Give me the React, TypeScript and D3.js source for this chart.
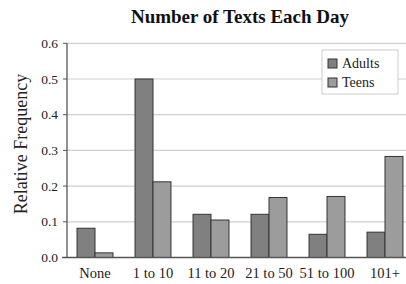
import React from 'react';
import * as d3 from 'd3';

// chart data
const categories = ['None', '1 to 10', '11 to 20', '21 to 50', '51 to 100', '101+'];
const series = ['Adults', 'Teens'];
const adults = [0.082, 0.5, 0.121, 0.121, 0.065, 0.071];
const teens = [0.013, 0.212, 0.105, 0.168, 0.171, 0.283];
const yTicks = [0, 0.1, 0.2, 0.3, 0.4, 0.5, 0.6];

const colors: Record<string, string> = { Adults: '#808080', Teens: '#9c9c9c' };
const font = '"Liberation Serif", "Times New Roman", serif';

const App: React.FC = () => {
  const width = 406;
  const height = 284;
  const left = 66;
  const top = 43.3;
  const bottom = 257.5;

  const x = d3.scaleBand<string>()
    .domain(categories)
    .range([left, left + 58 * 6])
    .paddingInner(0.38)
    .paddingOuter(0.19);
  const xs = d3.scaleBand<string>().domain(series).range([0, x.bandwidth()]);
  const y = d3.scaleLinear().domain([0, 0.6]).range([bottom, top]);

  const values: Record<string, number[]> = { Adults: adults, Teens: teens };

  return (
    <svg width={width} height={height} style={{ position: 'absolute', left: 0, top: 0 }}>
      <rect width={width} height={height} fill="#fff" />
      <text x={240} y={23} textAnchor="middle" fontFamily={font} fontWeight="bold" fontSize={19} fill="#111">
        Number of Texts Each Day
      </text>
      {/* grid */}
      {yTicks.map(t => (
        <line key={t} x1={left + 1} x2={width} y1={y(t)} y2={y(t)} stroke="#d0d0d0" strokeWidth={1.2} />
      ))}
      {/* bars */}
      {categories.map((c, i) => (
        <g key={c}>
          {series.map(s => (
            <rect
              key={s}
              x={(x(c) || 0) + (xs(s) || 0)}
              y={y(values[s][i])}
              width={xs.bandwidth()}
              height={bottom - y(values[s][i])}
              fill={colors[s]}
              stroke="#333"
              strokeWidth={1}
            />
          ))}
          <text x={(x(c) || 0) + x.bandwidth() / 2} y={277.5} textAnchor="middle" fontFamily={font} fontSize={14.5} fill="#222">
            {c}
          </text>
        </g>
      ))}
      {/* axes */}
      <line x1={67} x2={67} y1={top} y2={bottom} stroke="#555" strokeWidth={1.3} />
      <line x1={62} x2={width} y1={bottom} y2={bottom} stroke="#555" strokeWidth={1.3} />
      {yTicks.map(t => (
        <g key={t}>
          <line x1={63} x2={67} y1={y(t)} y2={y(t)} stroke="#555" />
          <text x={58} y={y(t) + 4.5} textAnchor="end" fontFamily={font} fontSize={13.5} fill="#222">
            {t.toFixed(1)}
          </text>
        </g>
      ))}
      <text
        transform={`translate(27,144) rotate(-90)`}
        textAnchor="middle"
        fontFamily={font}
        fontSize={18}
        fill="#222"
      >
        Relative Frequency
      </text>
      {/* legend */}
      <rect x={322} y={50} width={76} height={44} fill="#fff" stroke="#ccc" strokeWidth={1} />
      {series.map((s, i) => (
        <g key={s} transform={`translate(328,${59 + i * 19})`}>
          <rect width={9} height={9} fill={colors[s]} stroke="#333" strokeWidth={1} />
          <text x={14} y={9} fontFamily={font} fontSize={14} fill="#222">
            {s}
          </text>
        </g>
      ))}
    </svg>
  );
};

export default App;
